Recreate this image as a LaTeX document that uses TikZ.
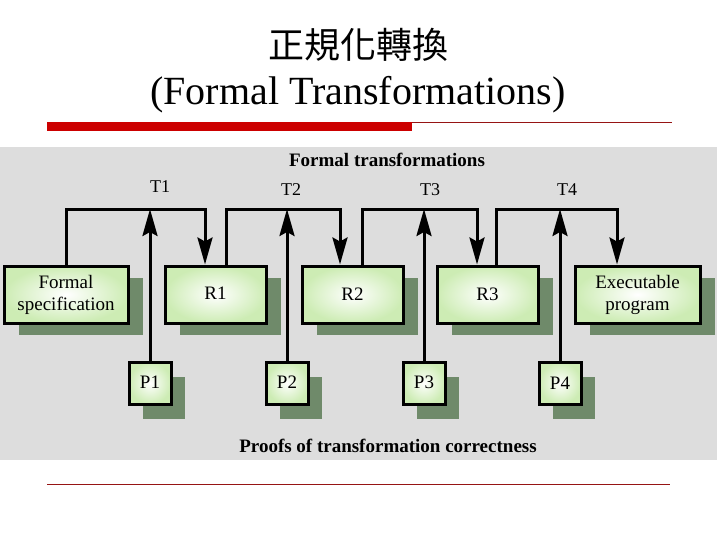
\documentclass[tikz,border=0pt]{standalone}
\usepackage{fontspec}
\setmainfont{Liberation Serif}
\newfontfamily\cjk{Noto Sans CJK TC}
\usetikzlibrary{arrows.meta,shadows}
\definecolor{panelgray}{RGB}{221,221,221}
\definecolor{barred}{RGB}{204,0,0}
\definecolor{linered}{RGB}{150,20,20}
\definecolor{boxgreen}{RGB}{205,236,180}
\definecolor{shadowgreen}{RGB}{111,138,106}
\tikzset{
  box/.style={draw=black, line width=3pt, inner color=white, outer color=boxgreen,
    minimum height=57pt, align=center, font=\fontsize{19}{22}\selectfont,
    drop shadow={shadow xshift=15pt, shadow yshift=-12pt, fill=shadowgreen, opacity=1}},
  pbox/.style={draw=black, line width=3pt, inner color=white, outer color=boxgreen,
    minimum width=42pt, minimum height=42pt, inner sep=0pt, font=\fontsize{19}{22}\selectfont,
    drop shadow={shadow xshift=14pt, shadow yshift=-15pt, fill=shadowgreen, opacity=1}},
  conn/.style={line width=3pt, line join=miter},
  arr/.style={conn, -{Stealth[length=27pt,width=15pt,inset=4pt]}},
  tlabel/.style={font=\fontsize{18}{20}\selectfont},
  heading/.style={font=\bfseries\fontsize{19}{22}\selectfont}
}
\begin{document}
\begin{tikzpicture}[x=1pt,y=-1pt]
\useasboundingbox (0,0) rectangle (717,538);
% title
\node (title1) at (358,45) {\cjk\fontsize{36}{40}\selectfont 正規化轉換};
\node (title2) at (358,95) {\fontsize{40}{44}\selectfont (Formal Transformations)};
\fill[barred] (47,122) rectangle (412,131);
\draw[linered, line width=1pt] (412,122.5) -- (672,122.5);
\draw[linered, line width=1pt] (47,484) -- (670,484);
% panel
\fill[panelgray] (0,147) rectangle (717,460);
\node[heading] (ftitle) at (387,160) {Formal transformations};
\node[heading] (ptitle) at (388,446) {Proofs of transformation correctness};
% boxes
\node[box, minimum width=124pt] (fs) at (66,294.5) {Formal\\specification};
\node[box, minimum width=101pt] (r1) at (215.5,294.5) {\raisebox{3pt}{R1}};
\node[box, minimum width=101pt] (r2) at (352.5,294.5) {R2};
\node[box, minimum width=101pt] (r3) at (487.5,294.5) {\raisebox{1pt}{R3}};
\node[box, minimum width=125pt] (ep) at (637.5,294.5) {Executable\\program};
\node[pbox] (p1) at (150,383) {\raisebox{1pt}{P1}};
\node[pbox] (p2) at (287,383) {\raisebox{1pt}{P2}};
\node[pbox] (p3) at (424,383) {\raisebox{2pt}{P3}};
\node[pbox] (p4) at (560,383) {\raisebox{-2pt}{P4}};
% T labels
\node[tlabel] (t1) at (160,187) {T1};
\node[tlabel] (t2) at (291,190) {T2};
\node[tlabel] (t3) at (430,190) {T3};
\node[tlabel] (t4) at (567,190) {T4};
% corner coordinates
\coordinate (c1) at (205,209);
\coordinate (c2) at (340,209);
\coordinate (c3) at (477,209);
\coordinate (c4) at (617,209);
\coordinate (s2) at (226,209);
\coordinate (s3) at (362,209);
\coordinate (s4) at (496,209);
% transformation paths
\draw[arr] (fs.north) |- (c1) -- (c1 |- r1.north);
\draw[arr] (s2 |- r1.north) -- (s2) -- (c2) -- (c2 |- r2.north);
\draw[arr] (s3 |- r2.north) -- (s3) -- (c3) -- (c3 |- r3.north);
\draw[arr] (s4 |- r3.north) -- (s4) -- (c4) -- (c4 |- ep.north);
% proof arrows
\draw[arr] (p1.north) -- (p1.north |- c1);
\draw[arr] (p2.north) -- (p2.north |- c1);
\draw[arr] (p3.north) -- (p3.north |- c1);
\draw[arr] (p4.north) -- (p4.north |- c1);
\end{tikzpicture}
\end{document}
